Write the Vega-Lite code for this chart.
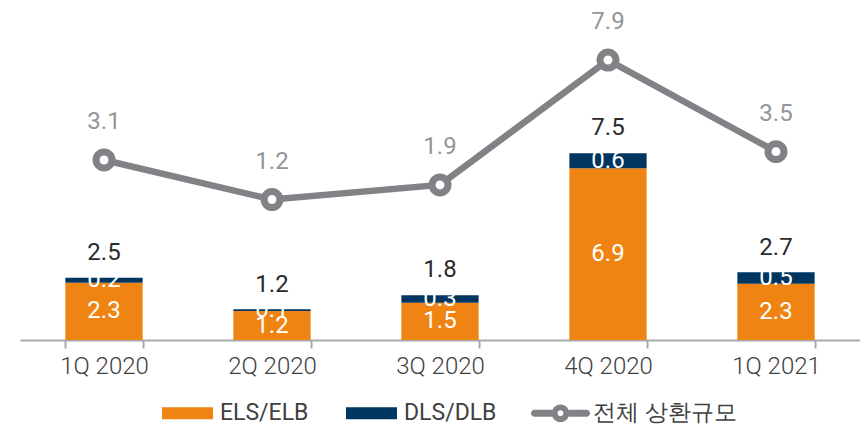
{
  "$schema": "https://vega.github.io/schema/vega-lite/v6.json",
  "width": 840,
  "height": 340,
  "autosize": {"type": "none"},
  "padding": {"left": 20, "top": 0, "right": 0, "bottom": 86},
  "config": {"view": {"stroke": null}, "font": "Roboto"},
  "datasets": {
    "bars": [
      {"quarter": "1Q 2020", "series": "ELS/ELB", "ord": 1, "value": 2.3},
      {"quarter": "1Q 2020", "series": "DLS/DLB", "ord": 2, "value": 0.2},
      {"quarter": "2Q 2020", "series": "ELS/ELB", "ord": 1, "value": 1.16},
      {"quarter": "2Q 2020", "series": "DLS/DLB", "ord": 2, "value": 0.07},
      {"quarter": "3Q 2020", "series": "ELS/ELB", "ord": 1, "value": 1.5},
      {"quarter": "3Q 2020", "series": "DLS/DLB", "ord": 2, "value": 0.3},
      {"quarter": "4Q 2020", "series": "ELS/ELB", "ord": 1, "value": 6.9},
      {"quarter": "4Q 2020", "series": "DLS/DLB", "ord": 2, "value": 0.6},
      {"quarter": "1Q 2021", "series": "ELS/ELB", "ord": 1, "value": 2.26},
      {"quarter": "1Q 2021", "series": "DLS/DLB", "ord": 2, "value": 0.46}
    ],
    "totals": [
      {"quarter": "1Q 2020", "total": 2.5, "overall": 3.1},
      {"quarter": "2Q 2020", "total": 1.2, "overall": 1.2},
      {"quarter": "3Q 2020", "total": 1.8, "overall": 1.9},
      {"quarter": "4Q 2020", "total": 7.5, "overall": 7.9},
      {"quarter": "1Q 2021", "total": 2.7, "overall": 3.5}
    ],
    "legend": [
      {"series": "ELS/ELB"},
      {"series": "DLS/DLB"},
      {"series": "전체 상환규모"}
    ]
  },
  "resolve": {"scale": {"y": "independent"}},
  "layer": [
    {
      "layer": [
        {
          "data": {"name": "bars"},
          "mark": {"type": "bar"},
          "encoding": {
            "x": {"field": "quarter", "type": "nominal", "sort": ["1Q 2020", "2Q 2020", "3Q 2020", "4Q 2020", "1Q 2021"],
              "scale": {"paddingInner": 0.54, "paddingOuter": 0.27},
              "axis": {"title": null, "labelAngle": 0, "tickBand": "extent", "domainColor": "#A7A9AC", "domainWidth": 2, "tickColor": "#A7A9AC", "tickWidth": 2, "tickSize": 8, "labelFontSize": 24, "labelFontWeight": 300, "labelColor": "#404040", "labelPadding": 6, "labelFont": "Roboto"}},
            "y": {"field": "value", "type": "quantitative", "stack": "zero", "scale": {"domain": [0, 13.65], "nice": false}, "axis": null},
            "color": {"field": "series", "type": "nominal", "scale": {"domain": ["ELS/ELB", "DLS/DLB", "전체 상환규모"], "range": ["#EF8412", "#00365F", "#808285"]}},
            "order": {"field": "ord"}
          }
        },
        {
          "data": {"name": "bars"},
          "mark": {"type": "text", "color": "white", "fontSize": 24, "baseline": "middle"},
          "encoding": {
            "x": {"field": "quarter", "type": "nominal", "sort": ["1Q 2020", "2Q 2020", "3Q 2020", "4Q 2020", "1Q 2021"]},
            "y": {"field": "value", "type": "quantitative", "stack": "zero", "bandPosition": 0.5},
            "detail": {"field": "series"},
            "order": {"field": "ord"},
            "text": {"field": "value", "type": "quantitative", "format": ".1f"}
          }
        },
        {
          "data": {"name": "totals"},
          "mark": {"type": "text", "color": "#2B2B2B", "fontSize": 24, "baseline": "middle", "dy": -25},
          "encoding": {
            "x": {"field": "quarter", "type": "nominal", "sort": ["1Q 2020", "2Q 2020", "3Q 2020", "4Q 2020", "1Q 2021"]},
            "y": {"field": "total", "type": "quantitative"},
            "text": {"field": "total", "type": "quantitative", "format": ".1f"}
          }
        }
      ]
    },
    {
      "data": {"name": "totals"},
      "encoding": {
        "x": {"field": "quarter", "type": "nominal", "sort": ["1Q 2020", "2Q 2020", "3Q 2020", "4Q 2020", "1Q 2021"]},
        "y": {"field": "overall", "type": "quantitative", "scale": {"domain": [-5.547, 10.783], "nice": false, "zero": false}, "axis": null}
      },
      "layer": [
        {"mark": {"type": "line", "color": "#808285", "strokeWidth": 6.5}},
        {"mark": {"type": "point", "filled": true, "fill": "white", "stroke": "#808285", "strokeWidth": 7, "size": 254, "opacity": 1}},
        {"mark": {"type": "text", "color": "#939598", "fontSize": 24, "baseline": "middle", "dy": -38},
          "encoding": {"text": {"field": "overall", "type": "quantitative", "format": ".1f"}}}
      ]
    },
    {
      "data": {"name": "legend"},
      "mark": {"type": "point", "filled": true, "opacity": 0},
      "encoding": {
        "color": {"field": "series", "type": "nominal", "scale": {"domain": ["ELS/ELB", "DLS/DLB", "전체 상환규모"], "range": ["#EF8412", "#00365F", "#808285"]},
          "legend": {"title": null, "orient": "none", "legendX": 138, "legendY": 383.5, "direction": "horizontal", "symbolSize": 3481, "symbolOpacity": 1, "symbolStrokeWidth": 0, "labelFontSize": 23, "labelColor": "#404040", "labelFont": "Roboto", "columnPadding": 33, "labelOffset": 3, "padding": 0}},
        "shape": {"field": "series", "type": "nominal", "scale": {"domain": ["ELS/ELB", "DLS/DLB", "전체 상환규모"], "range": ["M-0.864,-0.203H0.864V0.203H-0.864Z", "M-0.864,-0.203H0.864V0.203H-0.864Z", "M-0.88,-0.12H-0.29V0.12H-0.88A0.12,0.12 0 0,1 -0.88,-0.12Z M0.29,-0.12H0.88A0.12,0.12 0 0,1 0.88,0.12H0.29Z M0.3,0A0.3,0.3 0 1,1 -0.3,0A0.3,0.3 0 1,1 0.3,0Z M0.1,0A0.1,0.1 0 1,0 -0.1,0A0.1,0.1 0 1,0 0.1,0Z"]},
          "legend": {"title": null, "orient": "none", "legendX": 138, "legendY": 383.5, "direction": "horizontal", "symbolSize": 3481, "symbolOpacity": 1, "symbolStrokeWidth": 0, "labelFontSize": 23, "labelColor": "#404040", "labelFont": "Roboto", "columnPadding": 33, "labelOffset": 3, "padding": 0}}
      }
    }
  ]
}
